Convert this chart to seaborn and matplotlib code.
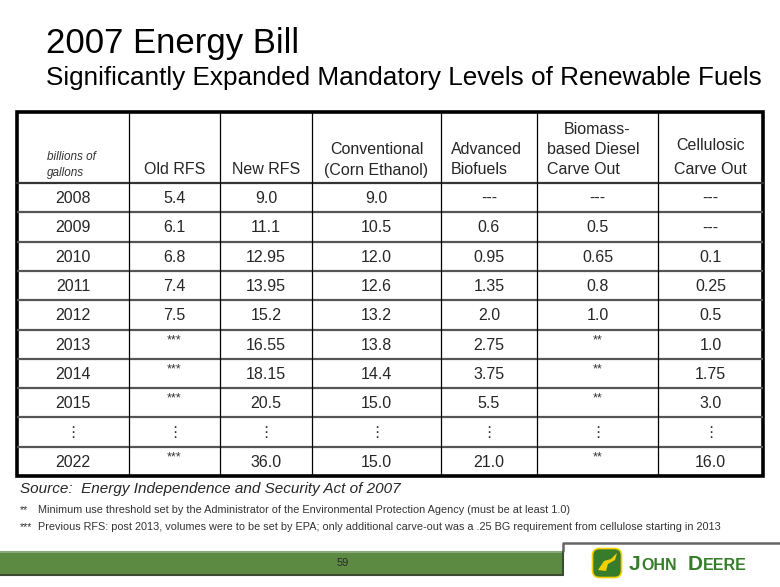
import numpy as np
import pandas as pd
import matplotlib
matplotlib.use("Agg")
import matplotlib.pyplot as plt
import seaborn as sns
from matplotlib.patches import Rectangle, FancyBboxPatch, Polygon

# ===========================
# DATEN
# ===========================
col_headers = [
    "Old RFS",
    "New RFS",
    "Conventional\n(Corn Ethanol)",
    "Advanced\nBiofuels",
    "Biomass-\nbased Diesel\nCarve Out",
    "Cellulosic\nCarve Out",
]
years = ["2008", "2009", "2010", "2011", "2012", "2013", "2014", "2015", "⋮", "2022"]
old_rfs = ["5.4", "6.1", "6.8", "7.4", "7.5", "***", "***", "***", "⋮", "***"]
new_rfs = ["9.0", "11.1", "12.95", "13.95", "15.2", "16.55", "18.15", "20.5", "⋮", "36.0"]
conventional = ["9.0", "10.5", "12.0", "12.6", "13.2", "13.8", "14.4", "15.0", "⋮", "15.0"]
advanced = ["---", "0.6", "0.95", "1.35", "2.0", "2.75", "3.75", "5.5", "⋮", "21.0"]
biomass_diesel = ["---", "0.5", "0.65", "0.8", "1.0", "**", "**", "**", "⋮", "**"]
cellulosic = ["---", "---", "0.1", "0.25", "0.5", "1.0", "1.75", "3.0", "⋮", "16.0"]

df = pd.DataFrame({
    "year": years,
    "old": old_rfs,
    "new": new_rfs,
    "conv": conventional,
    "adv": advanced,
    "bio": biomass_diesel,
    "cell": cellulosic,
})

# ===========================
# LAYOUT (Pixel)
# ===========================
W, H = 780, 587
col_edges = [17, 129, 220, 312, 441, 537, 658, 763]
table_top = 112
header_bottom = 183
row_h = 29.3

sns.set_theme(style="white")
plt.rcParams["font.family"] = ["Liberation Sans", "DejaVu Sans"]

fig = plt.figure(figsize=(W / 100, H / 100), dpi=100)
ax = fig.add_axes([0, 0, 1, 1])
ax.set_xlim(0, W)
ax.set_ylim(H, 0)
ax.axis("off")

# Titel
ax.text(46, 44, "2007 Energy Bill", fontsize=25, va="center", ha="left", color="black")
ax.text(46, 78, "Significantly Expanded Mandatory Levels of Renewable Fuels",
        fontsize=18.8, va="center", ha="left", color="black")

# ===========================
# TABELLE
# ===========================
n_rows = len(df)
table_bottom = header_bottom + n_rows * row_h
left, right = col_edges[0], col_edges[-1]

# Zeilenlinien (grau)
for i in range(1, n_rows):
    y = header_bottom + i * row_h
    ax.plot([left, right], [y, y], color="#555555", lw=1.6, solid_capstyle="butt")
ax.plot([left, right], [header_bottom, header_bottom], color="#333333", lw=1.6)
# Spaltenlinien
for x in col_edges[1:-1]:
    ax.plot([x, x], [table_top, table_bottom], color="black", lw=0.9)
# Rahmen
ax.add_patch(Rectangle((left, table_top), right - left, table_bottom - table_top,
                       fill=False, edgecolor="black", lw=2.6))

# Kopfzeile
ax.text(left + 30, 157, "billions of", fontsize=8.5, style="italic", color="#333333",
        va="center", ha="left")
ax.text(left + 30, 173, "gallons", fontsize=8.5, style="italic", color="#333333",
        va="center", ha="left")

line_gap = 20.5
base_y = 170
for j, label in enumerate(col_headers):
    x0, x1 = col_edges[j + 1], col_edges[j + 2]
    lines = label.split("\n")
    cx = (x0 + x1) / 2
    for k, line in enumerate(lines):
        y = base_y - (len(lines) - 1 - k) * line_gap
        if label.startswith("Cellulosic") and k == 0:
            y = 145
        if label.startswith("Advanced") or (label.startswith("Biomass") and k > 0):
            ax.text(x0 + 10, y, line, fontsize=11.5, va="center", ha="left")
        else:
            ax.text(cx, y, line, fontsize=11.5, va="center", ha="center")

# Datenzellen
for i, row in enumerate(df.itertuples(index=False)):
    y = header_bottom + (i + 0.5) * row_h
    for j, val in enumerate(row):
        cx = (col_edges[j] + col_edges[j + 1]) / 2
        if val == "⋮":
            ax.text(cx, y, val, fontsize=11, va="center", ha="center",
                    family=["DejaVu Sans"], color="#333333")
        elif "*" in val:
            ax.text(cx, y - 4, val, fontsize=9, va="center", ha="center", color="#333333")
        else:
            ax.text(cx, y + 1, val, fontsize=11.5, va="center", ha="center")

# ===========================
# FUSSNOTEN
# ===========================
ax.text(20, 489, "Source:  Energy Independence and Security Act of 2007", fontsize=11,
        style="italic", va="center", ha="left")
fn_font = ["Liberation Sans Narrow", "Liberation Sans"]
ax.text(20, 510, "**", fontsize=7.8, va="center", ha="left", family=fn_font, color="#333333")
ax.text(38, 510, "Minimum use threshold set by the Administrator of the Environmental "
        "Protection Agency (must be at least 1.0)", fontsize=7.8, va="center", ha="left",
        family=fn_font, color="#333333")
ax.text(20, 527, "***", fontsize=7.8, va="center", ha="left", family=fn_font, color="#333333")
ax.text(38, 527, "Previous RFS: post 2013, volumes were to be set by EPA; only additional "
        "carve-out was a .25 BG requirement from cellulose starting in 2013",
        fontsize=7.8, va="center", ha="left", family=fn_font, color="#333333")

# ===========================
# FUSSZEILE
# ===========================
ax.add_patch(Rectangle((0, 551), 563, 24, facecolor="#5d8a42", edgecolor="none"))
ax.plot([0, 563], [551.5, 551.5], color="#8aa878", lw=1.5)
ax.plot([0, 563], [575, 575], color="#3b4a33", lw=1.5)
ax.plot([563, 563], [551, 575], color="#3b4a33", lw=1.5)
ax.plot([563, 563, W], [551, 543, 543], color="#666666", lw=1.8)
ax.text(343, 563, "59", fontsize=8, va="center", ha="center", color="#2a2a2a")

# Logo
ax.add_patch(FancyBboxPatch((594, 550), 26, 26, boxstyle="round,pad=1.5,rounding_size=7",
                            facecolor="#367c2b", edgecolor="#f5d000", lw=1.2))
ax.add_patch(Polygon([[598, 570], [604, 561], [611, 559], [617, 553], [615, 560],
                      [608, 564], [606, 571]], closed=True, facecolor="#f5d000",
                     edgecolor="none"))
ax.text(629, 565, "J", fontsize=15, fontweight="bold", color="#367c2b", va="center", ha="left")
ax.text(641, 566, "OHN", fontsize=11.5, fontweight="bold", color="#367c2b", va="center", ha="left")
ax.text(688, 565, "D", fontsize=15, fontweight="bold", color="#367c2b", va="center", ha="left")
ax.text(702.5, 566, "EERE", fontsize=11.5, fontweight="bold", color="#367c2b", va="center", ha="left")

fig.savefig("out.png", dpi=100, facecolor="white")
